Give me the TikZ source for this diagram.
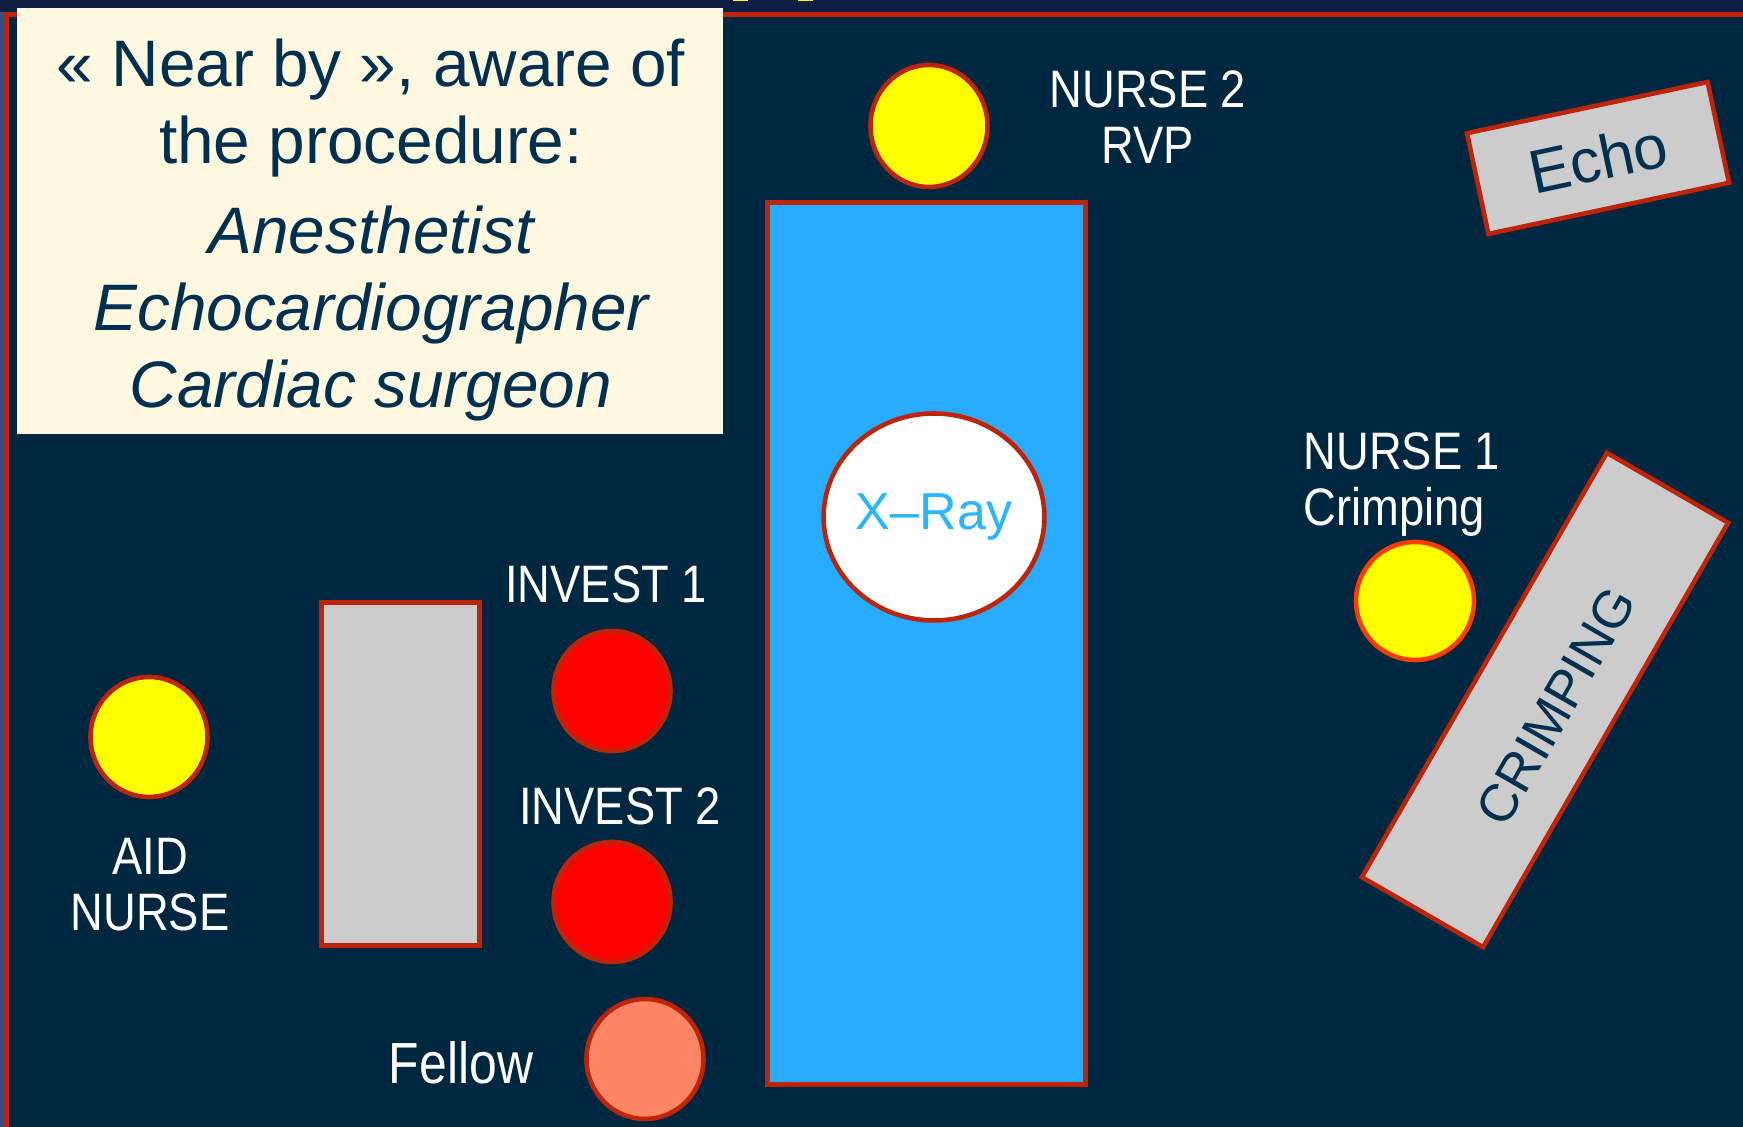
\documentclass[tikz,border=0pt]{standalone}
\usepackage{fontspec}
\setmainfont{Liberation Sans}
\newfontfamily\narrowfont{Liberation Sans}[FakeStretch=0.86]
\usepackage{tikz}
\usetikzlibrary{shapes.geometric}
\tikzset{person/.style = {ellipse, draw=mred, line width=1.3pt, inner sep=0,
                          minimum width=1.17cm, minimum height=1.2cm}}
\tikzset{who/.style = {text=white, align=center, inner sep=0,
                       font=\narrowfont\fontsize{15}{16}\selectfont}}
\tikzset{furniture/.style = {draw=mred, fill=mgrey, line width=1.3pt, inner sep=0, text=mnavy}}
\definecolor{mbg}{RGB}{0, 39, 64}
\definecolor{mtop}{RGB}{15, 31, 68}
\definecolor{mside}{RGB}{47, 79, 143}
\definecolor{mred}{RGB}{190, 36, 8}
\definecolor{morange}{RGB}{255, 60, 0}
\definecolor{mcream}{RGB}{255, 248, 224}
\definecolor{mnavy}{RGB}{0, 48, 80}
\definecolor{mgrey}{RGB}{204, 204, 204}
\definecolor{mblue}{RGB}{41, 171, 255}
\definecolor{mlight}{RGB}{41, 182, 255}
\definecolor{myellow}{RGB}{255, 255, 0}
\definecolor{msalmon}{RGB}{255, 133, 102}

\begin{document}
\begin{tikzpicture}
    \useasboundingbox (0, 0) rectangle (17.43, 11.27);
    \fill [mbg] (0, 0) rectangle (17.43, 11.27);

    \fill [mtop] (0, 11.15) rectangle (17.43, 11.27);
    \fill [mside] (0, 0) rectangle (0.04, 11.15);
    \fill [myellow] (7.33, 11.26) rectangle (7.48, 11.27);
    \fill [myellow] (7.98, 11.26) rectangle (8.13, 11.27);
    \draw [mred, line width=1.4pt] (0.062, 0) |- (17.43, 11.128);

    \node [fill=mcream, inner sep=0, minimum width=7.06cm, minimum height=4.26cm,
           anchor=north west] (nearbybox) at (0.16, 11.20) {};
    \node [text=mnavy, align=center, inner sep=0,
           font=\fontsize{18.7}{21.9}\selectfont] (nearby) at (3.71, 8.97)
          {« Near by », aware of\\the procedure:\\[0.13cm]
           \itshape Anesthetist\\\itshape Echocardiographer\\\itshape Cardiac surgeon};

    \node [draw=mred, fill=mblue, line width=1.3pt, inner sep=0,
           minimum width=3.18cm, minimum height=8.82cm] (table) at (9.265, 4.835) {};
    \node [ellipse, draw=mred, fill=white, line width=1.3pt, inner sep=0,
           minimum width=2.17cm, minimum height=2.07cm, text=mlight,
           font=\fontsize{14.8}{16}\selectfont] (xray) at (9.34, 6.10) {X--Ray\hspace{0.16cm}};

    \node [furniture, minimum width=1.58cm, minimum height=3.43cm] (sidetable) at (4.005, 3.53) {};
    \node [furniture, rotate=12, minimum width=2.46cm, minimum height=1.03cm,
           font=\fontsize{17.5}{18}\selectfont] (echo) at (15.98, 9.69) {Echo};
    \node [furniture, rotate=60, minimum width=4.9cm, minimum height=1.4cm,
           text height=0.62cm, text depth=0cm,
           font=\fontsize{15}{16}\selectfont] (crimping) at (15.45, 4.27) {CRIMPING};

    \node [person, fill=myellow, minimum height=1.22cm] (nurse2) at (9.29, 10.01) {};
    \node [person, fill=myellow] (aidnurse) at (1.49, 3.90) {};
    \node [person, fill=red] (invest1) at (6.12, 4.36) {};
    \node [person, fill=red] (invest2) at (6.12, 2.25) {};
    \node [person, fill=msalmon] (fellow) at (6.45, 0.68) {};
    \node [person, draw=morange, fill=myellow, minimum width=1.18cm,
           minimum height=1.18cm] (nurse1) at (14.15, 5.26) {};

    \node [who] (nurse2name) at (11.48, 10.10) {NURSE 2\\RVP};
    \node [who, align=left, anchor=west] (nurse1name) at (13.03, 6.425) {NURSE 1\\Crimping};
    \node [who] (aidname) at (1.50, 2.42) {AID\\NURSE};
    \node [who] (invest1name) at (6.06, 5.43) {INVEST 1};
    \node [who] (invest2name) at (6.20, 3.21) {INVEST 2};
    \node [who, font=\narrowfont\fontsize{16.5}{17}\selectfont] (fellowname) at (4.61, 0.64) {Fellow};
\end{tikzpicture}
\end{document}
